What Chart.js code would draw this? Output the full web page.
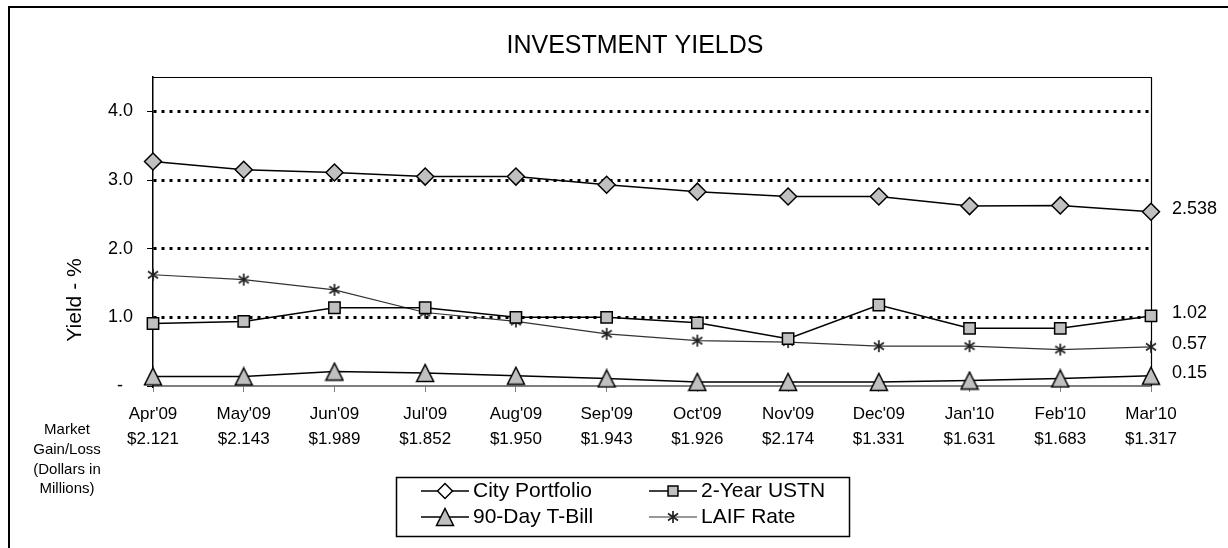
<!DOCTYPE html>
<html>
<head>
<meta charset="utf-8">
<title>Investment Yields</title>
<script src="https://cdn.jsdelivr.net/npm/chart.js@4.4.0/dist/chart.umd.min.js"></script>
<style>
    html, body { margin: 0; padding: 0; background: #fff; }
    #wrap { width: 1228px; height: 548px; }
</style>
</head>
<body>
<div id="wrap"><canvas id="yieldChart" width="1228" height="548"></canvas></div>
<script>
// Investment yields chart data
const months = ["Apr'09", "May'09", "Jun'09", "Jul'09", "Aug'09", "Sep'09",
    "Oct'09", "Nov'09", "Dec'09", "Jan'10", "Feb'10", "Mar'10"];
const marketGainLoss = ['$2.121', '$2.143', '$1.989', '$1.852', '$1.950', '$1.943',
    '$1.926', '$2.174', '$1.331', '$1.631', '$1.683', '$1.317'];
const cityPortfolio = [3.27, 3.15, 3.11, 3.05, 3.05, 2.93, 2.83, 2.76, 2.76, 2.62, 2.63, 2.538];
const ustn2Year = [0.91, 0.94, 1.14, 1.14, 1.00, 1.00, 0.92, 0.69, 1.18, 0.84, 0.84, 1.02];
const tBill90Day = [0.14, 0.14, 0.21, 0.19, 0.15, 0.11, 0.06, 0.06, 0.06, 0.08, 0.11, 0.15];
const laifRate = [1.62, 1.55, 1.40, 1.07, 0.94, 0.76, 0.66, 0.64, 0.58, 0.58, 0.53, 0.57];
const yTicks = [0, 1, 2, 3, 4];
const marketNote = ['Market', 'Gain/Loss', '(Dollars in', 'Millions)'];

const FONT = "'Liberation Sans', Arial, sans-serif";
const GREY = '#c0c0c0';

// Excel-like markers that Chart.js does not have
function triangleMarker() {
    const c = document.createElement('canvas');
    c.width = 20;
    c.height = 20;
    const g = c.getContext('2d');
    g.beginPath();
    g.moveTo(10, 1.5);
    g.lineTo(18.5, 18.5);
    g.lineTo(1.5, 18.5);
    g.closePath();
    g.fillStyle = GREY;
    g.fill();
    g.strokeStyle = '#000';
    g.lineWidth = 1.5;
    g.stroke();
    return c;
}

function asteriskMarker() {
    const c = document.createElement('canvas');
    c.width = 12;
    c.height = 14;
    const g = c.getContext('2d');
    g.strokeStyle = '#222';
    g.lineWidth = 1.7;
    g.beginPath();
    g.moveTo(6, 1); g.lineTo(6, 13);
    g.moveTo(1, 3.5); g.lineTo(11, 10.5);
    g.moveTo(1, 10.5); g.lineTo(11, 3.5);
    g.stroke();
    return c;
}

function drawMarker(ctx, ds, x, y, fill) {
    const style = ds.pointStyle;
    if (style instanceof HTMLCanvasElement) {
        ctx.drawImage(style, x - style.width / 2, y - style.height / 2);
        return;
    }
    ctx.fillStyle = fill || ds.pointBackgroundColor;
    ctx.strokeStyle = ds.pointBorderColor;
    ctx.lineWidth = ds.pointBorderWidth;
    Chart.helpers.drawPoint(ctx, {
        pointStyle: style,
        radius: ds.pointRadius - 1,
        rotation: 0,
        borderWidth: ds.pointBorderWidth
    }, x, y);
}

// Title, frame, side notes, end-of-line values and the boxed legend
const decorPlugin = {
    id: 'decor',
    beforeDatasetsDraw(chart) {
        const { ctx, chartArea: a } = chart;
        ctx.save();
        ctx.strokeStyle = '#000';
        ctx.lineWidth = 1.2;
        ctx.beginPath();
        ctx.moveTo(a.left, a.top + 0.5);
        ctx.lineTo(a.right + 0.5, a.top + 0.5);
        ctx.lineTo(a.right + 0.5, a.bottom);
        ctx.stroke();
        ctx.restore();
    },
    afterDraw(chart) {
        const { ctx } = chart;
        ctx.save();

        // outer chart frame (only left/top are visible in the crop)
        ctx.strokeStyle = '#000';
        ctx.lineWidth = 2;
        ctx.beginPath();
        ctx.moveTo(9, 548);
        ctx.lineTo(9, 7);
        ctx.lineTo(1228, 7);
        ctx.stroke();

        ctx.fillStyle = '#000';
        ctx.textAlign = 'center';
        ctx.textBaseline = 'middle';

        // chart title
        ctx.font = '25px ' + FONT;
        ctx.fillText('INVESTMENT YIELDS', 635, 46);

        // y axis title
        ctx.font = '21px ' + FONT;
        ctx.save();
        ctx.translate(75, 300);
        ctx.rotate(-Math.PI / 2);
        ctx.fillText('Yield - %', 0, 0);
        ctx.restore();

        // note under the axis
        ctx.font = '15px ' + FONT;
        marketNote.forEach((line, i) => ctx.fillText(line, 67, 430 + i * 19.7));

        // values at the end of each line
        ctx.font = '18px ' + FONT;
        ctx.textAlign = 'left';
        chart.data.datasets.forEach((ds, i) => {
            const pts = chart.getDatasetMeta(i).data;
            const last = pts[pts.length - 1];
            ctx.fillText(String(ds.data[ds.data.length - 1]), last.x + 21, last.y - 3);
        });

        // legend box
        ctx.lineWidth = 1.5;
        ctx.strokeStyle = '#000';
        ctx.strokeRect(396.5, 477.5, 453, 59);
        const slots = [[421, 491], [649, 491], [421, 517], [649, 517]];
        ctx.font = '21px ' + FONT;
        chart.data.datasets.forEach((ds, i) => {
            const [x, y] = slots[i];
            ctx.strokeStyle = ds.borderColor;
            ctx.lineWidth = ds.borderWidth;
            ctx.beginPath();
            ctx.moveTo(x, y);
            ctx.lineTo(x + 48, y);
            ctx.stroke();
            drawMarker(ctx, ds, x + 24, y, i === 0 ? '#fff' : null);
            ctx.fillStyle = '#000';
            ctx.fillText(ds.label, x + 52, y);
        });

        ctx.restore();
    }
};

function initYieldChart() {
    const ctx = document.getElementById('yieldChart');
    if (!ctx) return;

    const data = {
        labels: months.map((m, i) => [m, marketGainLoss[i]]),
        datasets: [
            {
                label: 'City Portfolio',
                data: cityPortfolio,
                borderColor: '#000',
                borderWidth: 1.5,
                pointStyle: 'rectRot',
                pointRadius: 8.5,
                pointBackgroundColor: GREY,
                pointBorderColor: '#000',
                pointBorderWidth: 1.5
            },
            {
                label: '2-Year USTN',
                data: ustn2Year,
                borderColor: '#000',
                borderWidth: 1.5,
                pointStyle: 'rect',
                pointRadius: 8,
                pointBackgroundColor: GREY,
                pointBorderColor: '#000',
                pointBorderWidth: 1.5
            },
            {
                label: '90-Day T-Bill',
                data: tBill90Day,
                borderColor: '#000',
                borderWidth: 1.5,
                pointStyle: triangleMarker(),
                pointRadius: 10
            },
            {
                label: 'LAIF Rate',
                data: laifRate,
                borderColor: '#333',
                borderWidth: 1.2,
                pointStyle: asteriskMarker(),
                pointRadius: 7
            }
        ]
    };

    const config = {
        type: 'line',
        data: data,
        plugins: [decorPlugin],
        options: {
            responsive: false,
            animation: false,
            layout: {
                padding: { left: 0, right: 77, top: 77, bottom: 0 }
            },
            datasets: {
                line: { clip: false, tension: 0, fill: false }
            },
            plugins: {
                legend: { display: false },
                tooltip: { enabled: false },
                title: { display: false }
            },
            scales: {
                x: {
                    offset: false,
                    grid: {
                        drawOnChartArea: false,
                        tickLength: 6,
                        tickColor: '#808080',
                        tickWidth: 1
                    },
                    border: { color: '#808080', width: 2 },
                    ticks: {
                        color: '#000',
                        padding: 10,
                        autoSkip: false,
                        maxRotation: 0,
                        font: { size: 17, family: FONT, lineHeight: '25px' }
                    },
                    afterFit: function (scale) {
                        scale.height = 162;
                    }
                },
                y: {
                    min: 0,
                    max: 4.5,
                    grid: {
                        color: (c) => (c.tick && c.tick.value === 0 ? 'rgba(0,0,0,0)' : '#000'),
                        lineWidth: 3,
                        tickLength: 6,
                        tickColor: '#000',
                        tickWidth: 1
                    },
                    border: { color: '#000', width: 1.5, dash: [3, 5] },
                    ticks: {
                        color: '#000',
                        padding: 14,
                        font: { size: 18, family: FONT },
                        callback: function (value) {
                            return value === 0 ? '-  ' : value.toFixed(1);
                        }
                    },
                    afterBuildTicks: function (scale) {
                        scale.ticks = yTicks.map(v => ({ value: v }));
                    },
                    afterFit: function (scale) {
                        scale.width = 153;
                    }
                }
            }
        }
    };

    new Chart(ctx, config);
}

initYieldChart();
</script>
</body>
</html>
